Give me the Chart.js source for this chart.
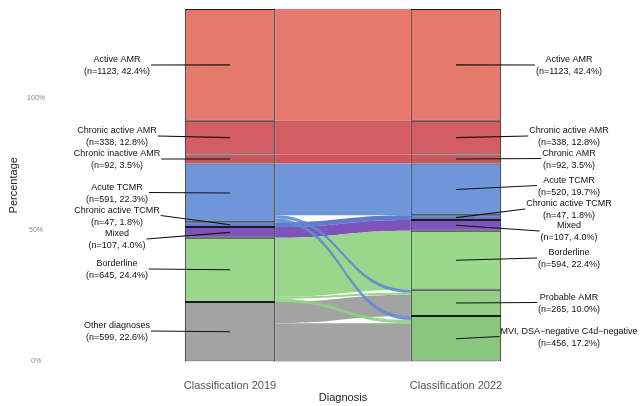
<!DOCTYPE html>
<html><head><meta charset="utf-8">
<script src="https://cdn.jsdelivr.net/npm/chart.js@4/dist/chart.umd.min.js"></script>
<style>html,body{margin:0;padding:0;background:#fff;}#wrap{width:641px;height:406px;}</style>
</head><body><div id="wrap"><canvas id="c" width="641" height="406"></canvas></div>
<script>
// ---------- DATA ----------
const axisLabels = ["Classification 2019", "Classification 2022"];
const strata2019 = ["Active AMR","Chronic active AMR","Chronic inactive AMR","Acute TCMR","Chronic active TCMR","Mixed","Borderline","Other diagnoses"];
const n2019 = [1123,338,92,591,47,107,645,599];
const pct2019 = ["42.4%","12.8%","3.5%","22.3%","1.8%","4.0%","24.4%","22.6%"];
const strata2022 = ["Active AMR","Chronic active AMR","Chronic AMR","Acute TCMR","Chronic active TCMR","Mixed","Borderline","Probable AMR","MVI, DSA\u2212negative C4d\u2212negative"];
const n2022 = [1123,338,92,520,47,107,594,265,456];
const pct2022 = ["42.4%","12.8%","3.5%","19.7%","1.8%","4.0%","22.4%","10.0%","17.2%"];
// flows: index into strata2019 -> index into strata2022, with count
const flowFrom = [0,1,2,3,3,3,4,5,6,6,6,7,7];
const flowTo   = [0,1,2,3,7,8,4,5,6,7,8,7,8];
const flowN    = [1123,338,92,520,31,40,47,107,594,20,31,214,385];
const yTickValues = [0,1325,2650];
const yTickLabels = ["0%","50%","100%"];

// ---------- STYLE / LAYOUT ----------
const colors2019 = ['#E3695E','#CF4B52','#C9434C','#5F8BD4','#4C6DC8','#7041B3','#8FD17E','#999999'];
const colors2022 = ['#E3695E','#CF4B52','#C9434C','#5F8BD4','#4C6DC8','#7041B3','#8FD17E','#86CA78','#7DBF6F'];
const ALPHA = 0.9;
const labelY2019 = [66,137,160,193.5,216.5,240,270,332];
const labelY2022 = [66,137,159.5,186.5,210,232,259,303.5,337.5];
const labelX2019 = 117, labelX2022 = 569;
const FONT = '"Liberation Sans", Arial, Helvetica, sans-serif';

const total = n2019.reduce((a,b)=>a+b,0);
function hexA(h,a){const r=parseInt(h.slice(1,3),16),g=parseInt(h.slice(3,5),16),b=parseInt(h.slice(5,7),16);return `rgba(${r},${g},${b},${a})`;}

// datasets: stacked from bottom
const datasets = [];
for (let i = strata2019.length-1; i >= 0; i--) {
  datasets.push({label: strata2019[i], data: [n2019[i], null], backgroundColor: hexA(colors2019[i], ALPHA), stack: 's'});
}
for (let j = strata2022.length-1; j >= 0; j--) {
  datasets.push({label: strata2022[j], data: [null, n2022[j]], backgroundColor: hexA(colors2022[j], ALPHA), stack: 's'});
}
datasets.forEach(d => { d.borderColor = '#1b1b1b'; d.borderWidth = 1; d.borderSkipped = false; d.categoryPercentage = 1; d.barPercentage = 0.4; });

function tops(ns){ // top value of each stratum (list ordered top -> bottom)
  const t = []; let acc = 0;
  for (let i = ns.length-1; i>=0; i--) { acc += ns[i]; t[i] = acc; }
  return t;
}

const flowPlugin = {
  id: 'flows',
  beforeDatasetsDraw(chart) {
    const ctx = chart.ctx, ys = chart.scales.y, xs = chart.scales.x;
    const bw = chart.getDatasetMeta(0).data[0].width;
    const xL = xs.getPixelForValue(0) + bw/2, xR = xs.getPixelForValue(1) - bw/2, xm = (xL+xR)/2;
    const tL = tops(n2019), tR = tops(n2022);
    const fl = flowN.map((n,f)=>{
      const s = flowFrom[f], t = flowTo[f];
      let offL = 0, offR = 0;
      flowN.forEach((m,g)=>{
        if (flowFrom[g]===s && flowTo[g]<t) offL += m;
        if (flowTo[g]===t && flowFrom[g]<s) offR += m;
      });
      const aT = tL[s]-offL, bT = tR[t]-offR;
      return {f, s, aT, aB: aT-n, bT, bB: bT-n, d: Math.abs((aT-bT))};
    });
    fl.sort((p,q)=>p.d-q.d);
    ctx.save();
    fl.forEach(o=>{
      const y1 = ys.getPixelForValue(o.aT), y2 = ys.getPixelForValue(o.bT);
      const y3 = ys.getPixelForValue(o.bB), y4 = ys.getPixelForValue(o.aB);
      ctx.beginPath();
      ctx.moveTo(xL, y1);
      ctx.bezierCurveTo(xm, y1, xm, y2, xR, y2);
      ctx.lineTo(xR, y3);
      ctx.bezierCurveTo(xm, y3, xm, y4, xL, y4);
      ctx.closePath();
      ctx.fillStyle = hexA(colors2019[o.s], ALPHA);
      ctx.fill();
    });
    ctx.restore();
  }
};

const labelPlugin = {
  id: 'labels',
  afterDraw(chart) {
    const ctx = chart.ctx, ys = chart.scales.y, xs = chart.scales.x;
    const cL = xs.getPixelForValue(0), cR = xs.getPixelForValue(1);
    ctx.save();
    ctx.font = '9px ' + FONT;
    ctx.textAlign = 'center';
    ctx.textBaseline = 'middle';
    ctx.fillStyle = '#111';
    ctx.strokeStyle = '#111';
    ctx.lineWidth = 1.1;
    const draw = (names, ns, pcts, labY, lx, cx, side) => {
      const t = tops(ns);
      names.forEach((nm,i)=>{
        const l1 = nm, l2 = `(n=${ns[i]}, ${pcts[i]})`;
        const w = Math.max(ctx.measureText(l1).width, ctx.measureText(l2).width);
        const cy = labY[i];
        const sy = ys.getPixelForValue(t[i] - ns[i]/2);
        const ex = side < 0 ? lx + w/2 + 1 : lx - w/2 - 1;
        ctx.beginPath();
        ctx.moveTo(ex, cy - 1);
        ctx.lineTo(cx, sy);
        ctx.stroke();
        ctx.fillText(l1, lx, cy - 6);
        ctx.fillText(l2, lx, cy + 6);
      });
    };
    draw(strata2019, n2019, pct2019, labelY2019, labelX2019, cL, -1);
    draw(strata2022, n2022, pct2022, labelY2022, labelX2022, cR, 1);
    ctx.restore();
  }
};

new Chart(document.getElementById('c'), {
  type: 'bar',
  data: { labels: axisLabels, datasets },
  options: {
    responsive: false,
    animation: false,
    layout: { padding: { top: 9, right: 72, left: 0, bottom: 0 } },
    plugins: { legend: { display: false }, tooltip: { enabled: false } },
    scales: {
      x: {
        stacked: true,
        grid: { display: false, drawTicks: false },
        border: { display: false },
        ticks: { color: '#555', font: { size: 11, family: FONT }, padding: 18 },
        title: { display: true, text: 'Diagnosis', color: '#222', font: { size: 11, family: FONT }, padding: { top: 0, bottom: 1 } },
        afterFit(s) { s.height = 44.5; }
      },
      y: {
        stacked: true,
        min: 0, max: total,
        grid: { display: false, drawTicks: false },
        border: { display: false },
        afterBuildTicks(s) { s.ticks = yTickValues.map(v => ({ value: v })); },
        ticks: {
          color: '#8a8480', font: { size: 7, family: FONT }, padding: 72, crossAlign: 'center',
          callback: (v) => { const k = yTickValues.indexOf(v); return k >= 0 ? yTickLabels[k] : ''; }
        },
        title: { display: true, text: 'Percentage', color: '#222', font: { size: 11, family: FONT }, padding: { top: 7, bottom: 0 } },
        afterFit(s) { s.width = 117; s.paddingTop = 0; s.paddingBottom = 0; }
      }
    }
  },
  plugins: [flowPlugin, labelPlugin]
});
</script>
</body></html>
